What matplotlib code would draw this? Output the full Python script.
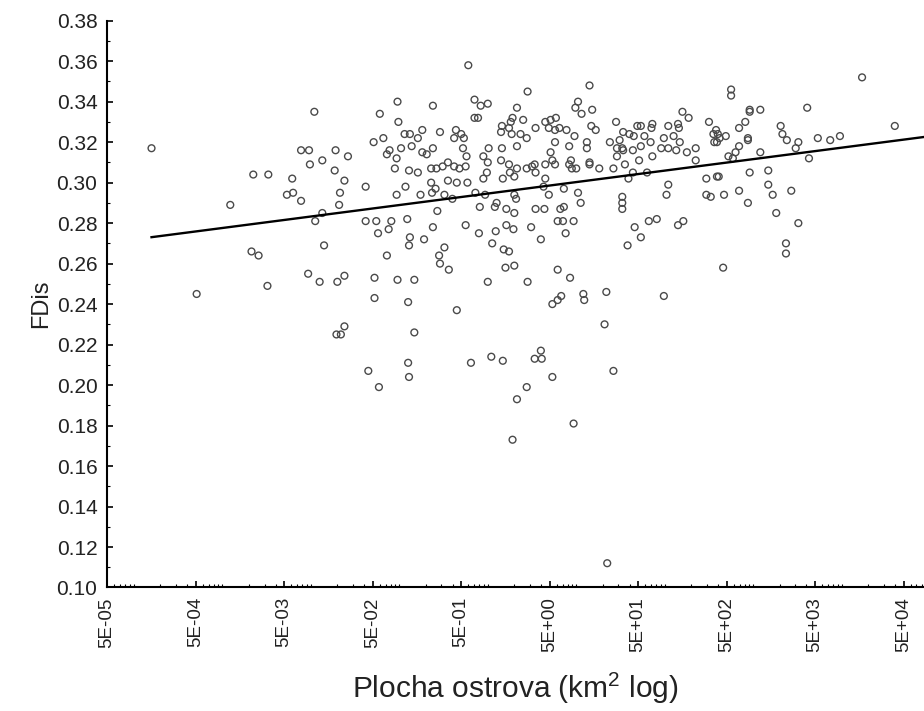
import numpy as np
import matplotlib.pyplot as plt
from matplotlib.ticker import FixedLocator, LogLocator, MultipleLocator, NullFormatter

# log10 of island area (km2) and FDis
log_area = [
    -1.96, -3.80, -2.11, -2.02, -2.01, -2.65, -2.48, -2.21, -2.27, -2.20,
    -2.11, -2.91, -1.95, -2.67, -2.59, -2.03, -1.90, -2.49, -3.29,
    -0.22, -1.02, -0.15, -0.08, 0.00, -0.62, -1.22, 0.33, -1.01, -0.15,
    -0.11, 0.28, 0.26, 0.16, 0.24, -0.74, -0.54, -0.36, -0.94, -0.88,
    -0.79, -0.30, -0.38, -0.27, 0.15, 0.27, -1.18, -1.29, -0.86, -0.98,
    -0.62, -0.28, 0.01, 0.16, 0.33, -1.72, -1.58, -1.11, -1.14, -0.74,
    -0.69, -1.03, -0.24, -0.05, -1.87, -1.73, -1.05, -0.89, -0.79, -0.64,
    -0.58, -0.51, -0.45, -0.38, -0.32, -0.25, 0.00, 0.15, 0.24, 0.33,
    -1.62, -1.38, -0.93, -0.64, -0.59, -0.45, -0.35, -0.23, -0.05, -0.01,
    0.17, 0.25, 0.30, -1.67, -1.03, -0.76, -0.63, -0.49, -0.40, -0.14,
    -0.03, 0.30, 0.32, -1.68, -0.09, 0.08, 0.10, 0.21, 0.30, -1.87,
    -0.57, -1.38, -1.26, -1.09, -0.91, -1.12, -1.24, -0.62, -0.25, -0.10,
    0.09, 0.21, 0.29, -0.88, -0.72,
    -0.89, -0.49, -0.55, -0.54, -0.44, 0.05, 0.18, 0.24, 0.20, 0.30,
    -1.85, -1.14, -1.70, -1.62, -1.28, -1.02, -0.83, 0.00, -1.28, -0.90,
    -0.35, -1.62, -1.71, -1.66, -0.83, -0.90, -1.35, -0.89, -1.23, -0.19,
    0.04, 0.17, 0.33,
    1.15, 0.45, 1.02, 0.99, 1.06, 1.18, 0.40, 0.65, 0.71, 0.77,
    0.37, 0.44, 0.54, 0.69, 0.76, 0.81, 0.89, 1.17, 1.22, 1.45,
    1.69, 1.73, 1.85, 1.86, 2.04, 2.15, 2.16, 2.20, 2.27, 2.50,
    0.76, 0.98, 0.92, 0.71, 1.12, 1.12, 1.38, 1.49, 1.53, 1.60,
    1.65, 1.46, 1.52, 1.53, 1.64, 1.73, 1.77, 1.84, 1.99, 2.10,
    2.17, 1.96, 2.04, 2.13, 2.25, 2.35, 2.35, 2.55, 2.56,
    0.44, 0.50, 0.53, 0.54, 0.65, 0.73, 0.76, 0.92, 0.95, 0.94,
    1.00, 1.15, 1.15, 1.26, 1.42, 1.46, 1.55, 1.59, 1.64, 1.71,
    1.80, 1.86, 0.65, 0.63, 0.69, 0.86, 1.02, 1.05, 0.54, 0.64,
    0.82, 0.86, 0.79, 0.85, 0.97, 0.49, 0.60, 0.88, 1.52, 1.52,
    1.52, 2.04, 2.02, 1.66, 1.73, 1.82, 1.91, 2.15, 2.21, 2.47,
    2.47, 2.52, 2.59,
    0.45, 0.79, 0.93, 0.73, 0.79, 0.83, 1.08, 1.09, 1.34, 1.58,
    1.99, 1.32, 0.60, 0.53, 0.61, 0.73, 0.44, 1.42, 0.97, 0.28,
    1.35,
    4.23, 2.75, 2.75, 2.96, 2.96, 3.08, 3.61, 4.60, 2.58, 2.60,
    2.69, 2.62, 2.59, 2.84, 2.91, 2.94, 2.94, 3.31, 3.33, 3.38,
    3.51, 3.48, 3.73, 3.87, 3.98, 2.84, 2.80, 2.72, 2.77, 3.08,
    3.63, 2.61, 2.96, 3.17, 3.17, 2.67, 2.84, 3.22, 3.43, 2.94,
    3.26, 3.51, 3.37, 3.37, 2.66,
]
fdis = [
    0.335, 0.317, 0.316, 0.316, 0.309, 0.304, 0.304, 0.302, 0.294, 0.295,
    0.291, 0.289, 0.281, 0.266, 0.264, 0.255, 0.251, 0.249, 0.245,
    0.358, 0.340, 0.341, 0.338, 0.339, 0.338, 0.334, 0.337, 0.330, 0.332,
    0.332, 0.332, 0.330, 0.328, 0.327, 0.326, 0.325, 0.326, 0.324, 0.324,
    0.322, 0.324, 0.322, 0.322, 0.325, 0.324, 0.322, 0.320, 0.318, 0.317,
    0.317, 0.317, 0.317, 0.317, 0.318, 0.316, 0.313, 0.316, 0.314, 0.315,
    0.314, 0.312, 0.313, 0.313, 0.311, 0.306, 0.307, 0.306, 0.305, 0.307,
    0.307, 0.308, 0.310, 0.308, 0.307, 0.308, 0.310, 0.311, 0.309, 0.307,
    0.301, 0.298, 0.298, 0.300, 0.297, 0.301, 0.300, 0.300, 0.302, 0.305,
    0.302, 0.305, 0.303, 0.295, 0.294, 0.294, 0.295, 0.294, 0.292, 0.295,
    0.294, 0.294, 0.292, 0.289, 0.288, 0.288, 0.290, 0.287, 0.285, 0.285,
    0.286, 0.281, 0.281, 0.281, 0.282, 0.277, 0.275, 0.278, 0.279, 0.275,
    0.276, 0.279, 0.277, 0.273, 0.272,
    0.269, 0.268, 0.264, 0.260, 0.257, 0.270, 0.267, 0.266, 0.258, 0.259,
    0.269, 0.264, 0.251, 0.254, 0.253, 0.252, 0.252, 0.251, 0.243, 0.241,
    0.237, 0.229, 0.225, 0.225, 0.226, 0.211, 0.207, 0.204, 0.199, 0.211,
    0.214, 0.212, 0.193,
    0.348, 0.345, 0.340, 0.337, 0.334, 0.336, 0.331, 0.330, 0.331, 0.332,
    0.324, 0.322, 0.327, 0.327, 0.326, 0.327, 0.326, 0.328, 0.326, 0.330,
    0.328, 0.328, 0.327, 0.329, 0.328, 0.329, 0.327, 0.335, 0.332, 0.330,
    0.320, 0.323, 0.318, 0.315, 0.320, 0.317, 0.320, 0.321, 0.325, 0.324,
    0.323, 0.317, 0.317, 0.316, 0.316, 0.318, 0.323, 0.320, 0.322, 0.323,
    0.320, 0.317, 0.317, 0.316, 0.315, 0.317, 0.311, 0.324, 0.320,
    0.307, 0.308, 0.309, 0.305, 0.309, 0.311, 0.309, 0.309, 0.307, 0.311,
    0.307, 0.310, 0.309, 0.307, 0.307, 0.313, 0.309, 0.302, 0.305, 0.311,
    0.305, 0.313, 0.302, 0.298, 0.294, 0.297, 0.295, 0.290, 0.287, 0.287,
    0.287, 0.288, 0.281, 0.281, 0.281, 0.278, 0.272, 0.275, 0.293, 0.290,
    0.287, 0.299, 0.294, 0.278, 0.273, 0.281, 0.282, 0.279, 0.281, 0.302,
    0.294, 0.293, 0.303,
    0.251, 0.257, 0.253, 0.240, 0.242, 0.244, 0.245, 0.242, 0.246, 0.269,
    0.244, 0.230, 0.217, 0.213, 0.213, 0.204, 0.199, 0.207, 0.181, 0.173,
    0.112,
    0.352, 0.346, 0.343, 0.335, 0.336, 0.336, 0.337, 0.328, 0.326, 0.324,
    0.323, 0.322, 0.320, 0.327, 0.330, 0.322, 0.321, 0.328, 0.324, 0.321,
    0.320, 0.317, 0.322, 0.321, 0.323, 0.318, 0.315, 0.313, 0.312, 0.315,
    0.312, 0.303, 0.305, 0.306, 0.299, 0.294, 0.296, 0.294, 0.296, 0.290,
    0.285, 0.280, 0.270, 0.265, 0.258,
]

# regression line FDis = a + b*log10(area)
fit_intercept = 0.2946
fit_slope = 0.00567

xtick_values = [5e-5, 5e-4, 5e-3, 5e-2, 5e-1, 5e0, 5e1, 5e2, 5e3, 5e4]
xtick_labels = ['5E-05', '5E-04', '5E-03', '5E-02', '5E-01',
                '5E+00', '5E+01', '5E+02', '5E+03', '5E+04']
ytick_values = [0.10, 0.12, 0.14, 0.16, 0.18, 0.20, 0.22, 0.24,
                0.26, 0.28, 0.30, 0.32, 0.34, 0.36, 0.38]

plt.rcParams['font.family'] = ['Liberation Sans', 'DejaVu Sans']
plt.rcParams['mathtext.fontset'] = 'custom'
plt.rcParams['mathtext.rm'] = 'Liberation Sans'

fig = plt.figure(figsize=(9.24, 7.11), dpi=100)
ax = fig.add_axes([0.116, 0.1737, 0.884, 0.7972])

area = 10 ** np.array(log_area)
ax.scatter(area, fdis, s=24, facecolors='none', edgecolors='#4a4a4a',
           linewidths=1.0, zorder=2)

x_right = 10 ** 4.93
line_x = np.logspace(min(log_area), np.log10(x_right), 50)
ax.plot(line_x, fit_intercept + fit_slope * np.log10(line_x),
        color='black', lw=1.7, zorder=3)

ax.set_xscale('log')
ax.set_xlim(5e-5, x_right)
ax.set_ylim(0.10, 0.38)

ax.xaxis.set_major_locator(FixedLocator(xtick_values))
ax.set_xticklabels(xtick_labels, rotation=90, fontsize=13.5, color='#222222')
ax.xaxis.set_minor_locator(LogLocator(base=10, subs=np.arange(1, 10), numticks=30))
ax.xaxis.set_minor_formatter(NullFormatter())

ax.set_yticks(ytick_values)
ax.set_yticklabels([f'{v:.2f}' for v in ytick_values], fontsize=15, color='#222222')
ax.yaxis.set_minor_locator(MultipleLocator(0.01))

ax.tick_params(which='both', direction='in', color='black')
ax.tick_params(which='major', length=4, width=1.2, pad=7)
ax.tick_params(which='minor', length=2, width=0.8)

for side in ['top', 'right']:
    ax.spines[side].set_visible(False)
for side in ['left', 'bottom']:
    ax.spines[side].set_linewidth(1.5)

ax.set_ylabel('FDis', fontsize=17, color='#222222')
ax.yaxis.set_label_coords(-0.068, 0.5)
ax.set_xlabel('Plocha ostrova (km$\\mathregular{^2}$ log)', fontsize=21.5, color='#222222')
ax.xaxis.set_label_coords(0.5, -0.147)

fig.savefig('out.png', dpi=100)
